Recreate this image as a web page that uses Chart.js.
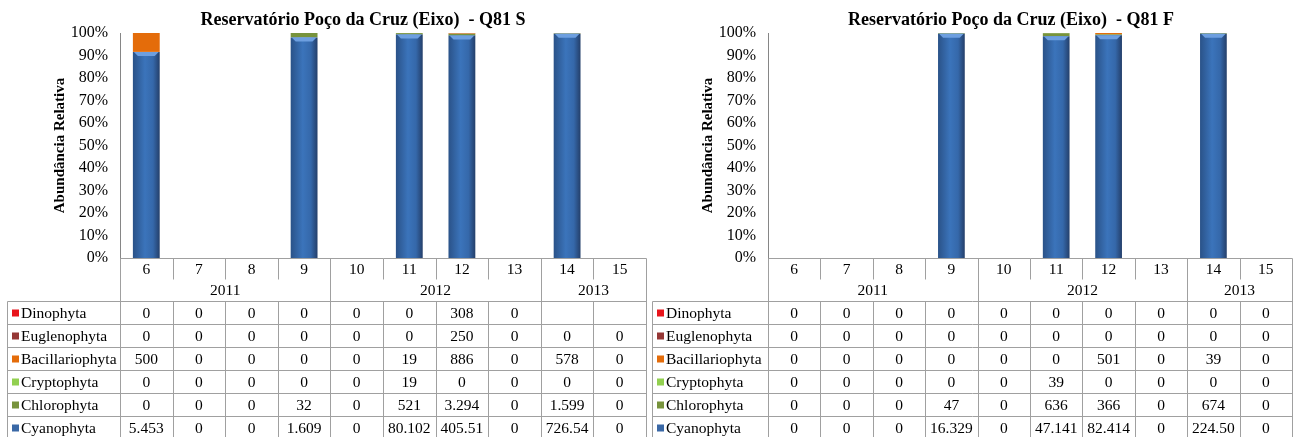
<!DOCTYPE html>
<html>
<head>
<meta charset="utf-8">
<script src="https://cdn.jsdelivr.net/npm/chart.js@4.4.0/dist/chart.umd.min.js"></script>
<style>
  body { margin: 0; background: #fff; width: 1296px; height: 437px; overflow: hidden; }
  .box { position: absolute; top: 0; width: 648px; height: 437px; }
</style>
</head>
<body>
<div class="box" style="left:0"><canvas id="c1"></canvas></div>
<div class="box" style="left:648px"><canvas id="c2"></canvas></div>
<script>
// categories
const months = ['6', '7', '8', '9', '10', '11', '12', '13', '14', '15'];
const years = ['2011', '2012', '2013'];
const yearSpan = [4, 4, 2];
const groups = ['Dinophyta', 'Euglenophyta', 'Bacillariophyta', 'Cryptophyta', 'Chlorophyta', 'Cyanophyta'];
const groupColors = ['#E8141B', '#953735', '#E46C0A', '#92D050', '#77933C', '#3A68A6'];

// Q81 S
const sDinophyta = [0, 0, 0, 0, 0, 0, 308, 0, null, null];
const sEuglenophyta = [0, 0, 0, 0, 0, 0, 250, 0, 0, 0];
const sBacillariophyta = [500, 0, 0, 0, 0, 19, 886, 0, 578, 0];
const sCryptophyta = [0, 0, 0, 0, 0, 19, 0, 0, 0, 0];
const sChlorophyta = [0, 0, 0, 32, 0, 521, 3294, 0, 1599, 0];
const sCyanophyta = [5453, 0, 0, 1609, 0, 80102, 405510, 0, 726540, 0];

// Q81 F
const fDinophyta = [0, 0, 0, 0, 0, 0, 0, 0, 0, 0];
const fEuglenophyta = [0, 0, 0, 0, 0, 0, 0, 0, 0, 0];
const fBacillariophyta = [0, 0, 0, 0, 0, 0, 501, 0, 39, 0];
const fCryptophyta = [0, 0, 0, 0, 0, 39, 0, 0, 0, 0];
const fChlorophyta = [0, 0, 0, 47, 0, 636, 366, 0, 674, 0];
const fCyanophyta = [0, 0, 0, 16329, 0, 47141, 82414, 0, 224500, 0];

const SERIF = '"Liberation Serif", "Times New Roman", serif';
const LINE = '#a0a0a0';

function fmt(v) {
  if (v == null) return '';
  // excel cell shows pt-BR thousands, clipped to the cell width
  return String(v).replace(/\B(?=(\d{3})+(?!\d))/g, '.').slice(0, 6);
}

function blueFill(c) {
  const chart = c.chart;
  const x = chart.scales.x;
  if (!chart.chartArea || !x) return groupColors[5];
  const cx = x.getPixelForValue(c.dataIndex);
  const w = (x.getPixelForValue(1) - x.getPixelForValue(0)) * 0.51;
  const g = chart.ctx.createLinearGradient(cx - w / 2, 0, cx + w / 2, 0);
  g.addColorStop(0, '#2a5288');
  g.addColorStop(0.45, '#3b74bb');
  g.addColorStop(0.75, '#3568aa');
  g.addColorStop(1, '#243f6a');
  return g;
}

const tablePlugin = {
  id: 'dataTable',
  afterDatasetsDraw(chart) {
    // light bevel on top of the blue bars
    const ctx = chart.ctx;
    const meta = chart.getDatasetMeta(0);
    ctx.save();
    meta.data.forEach(b => {
      if (b.base - b.y < 2) return;
      const l = b.x - b.width / 2, r = b.x + b.width / 2;
      ctx.fillStyle = '#6d9fe0';
      ctx.beginPath();
      ctx.moveTo(l + 1, b.y);
      ctx.lineTo(r - 1, b.y);
      ctx.lineTo(r - 5, b.y + 4);
      ctx.lineTo(l + 5, b.y + 4);
      ctx.closePath();
      ctx.fill();
    });
    ctx.restore();
  },
  afterDraw(chart, args, opts) {
    const ctx = chart.ctx, a = chart.chartArea, x = chart.scales.x;
    const n = months.length;
    const half = (x.getPixelForValue(1) - x.getPixelForValue(0)) / 2;
    const edges = [];
    for (let i = 0; i < n; i++) edges.push(x.getPixelForValue(i) - half);
    edges.push(x.getPixelForValue(n - 1) + half);
    const top = a.bottom, monthBottom = top + 23, headBottom = top + 43, rowH = 23;
    const bottom = chart.height;
    const L = opts.legendLeft, R = edges[n];

    ctx.save();
    // chart title
    ctx.fillStyle = '#000';
    ctx.font = 'bold 18px ' + SERIF;
    ctx.textAlign = 'center';
    ctx.textBaseline = 'alphabetic';
    ctx.fillText(opts.title, a.left + 243, 25);

    ctx.strokeStyle = LINE;
    ctx.lineWidth = 1;
    const line = (x1, y1, x2, y2) => {
      ctx.beginPath();
      ctx.moveTo(Math.round(x1) + 0.5, Math.round(y1) + 0.5);
      ctx.lineTo(Math.round(x2) + 0.5, Math.round(y2) + 0.5);
      ctx.stroke();
    };
    line(edges[0], top, R, top);
    line(edges[0], top, edges[0], bottom);
    line(R, top, R, bottom);
    for (let i = 1; i < n; i++) line(edges[i], top, edges[i], monthBottom - 2);
    let k = 0;
    yearSpan.forEach((s, j) => {
      k += s;
      if (k < n) line(edges[k], top, edges[k], headBottom);
    });
    for (let r = 0; r <= groups.length; r++) line(L, headBottom + r * rowH, R, headBottom + r * rowH);
    line(L, headBottom, L, bottom);
    for (let i = 1; i < n; i++) line(edges[i], headBottom, edges[i], bottom);

    ctx.fillStyle = '#000';
    ctx.font = '15.5px ' + SERIF;
    ctx.textBaseline = 'middle';
    ctx.textAlign = 'center';
    months.forEach((m, i) => ctx.fillText(m, x.getPixelForValue(i), top + 12));
    k = 0;
    years.forEach((y, j) => {
      const c = (edges[k] + edges[k + yearSpan[j]]) / 2;
      ctx.fillText(y, c, top + 33);
      k += yearSpan[j];
    });
    opts.rows.forEach((row, r) => {
      const cy = headBottom + r * rowH + rowH / 2 + 1;
      ctx.textAlign = 'center';
      ctx.fillStyle = '#000';
      row.forEach((v, i) => ctx.fillText(fmt(v), x.getPixelForValue(i), cy));
      ctx.fillStyle = groupColors[r];
      ctx.fillRect(L + 5, cy - 4, 7, 7);
      ctx.fillStyle = '#000';
      ctx.textAlign = 'left';
      ctx.fillText(groups[r], L + 14, cy);
    });
    ctx.restore();
  }
};

function makeChart(id, title, rows, padRight, legendLeft) {
  const totals = months.map((m, i) => rows.reduce((s, r) => s + (r[i] || 0), 0));
  const datasets = rows.map((r, g) => ({
    label: groups[g],
    data: r.map((v, i) => totals[i] ? (v || 0) / totals[i] * 100 : 0),
    backgroundColor: g === 5 ? blueFill : groupColors[g],
    borderWidth: 0,
    categoryPercentage: 1,
    barPercentage: 0.51
  })).reverse();

  new Chart(document.getElementById(id), {
    type: 'bar',
    data: { labels: months, datasets },
    plugins: [tablePlugin],
    options: {
      responsive: true,
      maintainAspectRatio: false,
      animation: false,
      layout: { padding: { left: 0, right: padRight, top: 33, bottom: 179 } },
      plugins: {
        legend: { display: false },
        tooltip: { enabled: false },
        title: { display: false },
        dataTable: { rows, legendLeft, title }
      },
      scales: {
        x: { stacked: true, display: false },
        y: {
          stacked: true,
          min: 0,
          max: 100,
          afterFit(s) { s.width = 120; },
          grid: { display: false, drawTicks: false },
          border: { color: '#868686' },
          ticks: {
            stepSize: 10,
            padding: 12,
            color: '#000',
            font: { family: SERIF, size: 16 },
            callback: v => v + '%'
          },
          title: {
            display: true,
            text: 'Abundância Relativa',
            color: '#000',
            font: { family: SERIF, size: 15, weight: 'bold' },
            padding: { top: 51, bottom: 0 }
          }
        }
      }
    }
  });
}

makeChart('c1', 'Reservatório Poço da Cruz (Eixo)  - Q81 S',
  [sDinophyta, sEuglenophyta, sBacillariophyta, sCryptophyta, sChlorophyta, sCyanophyta], 2, 7);
makeChart('c2', 'Reservatório Poço da Cruz (Eixo)  - Q81 F',
  [fDinophyta, fEuglenophyta, fBacillariophyta, fCryptophyta, fChlorophyta, fCyanophyta], 4, 4);
</script>
</body>
</html>
